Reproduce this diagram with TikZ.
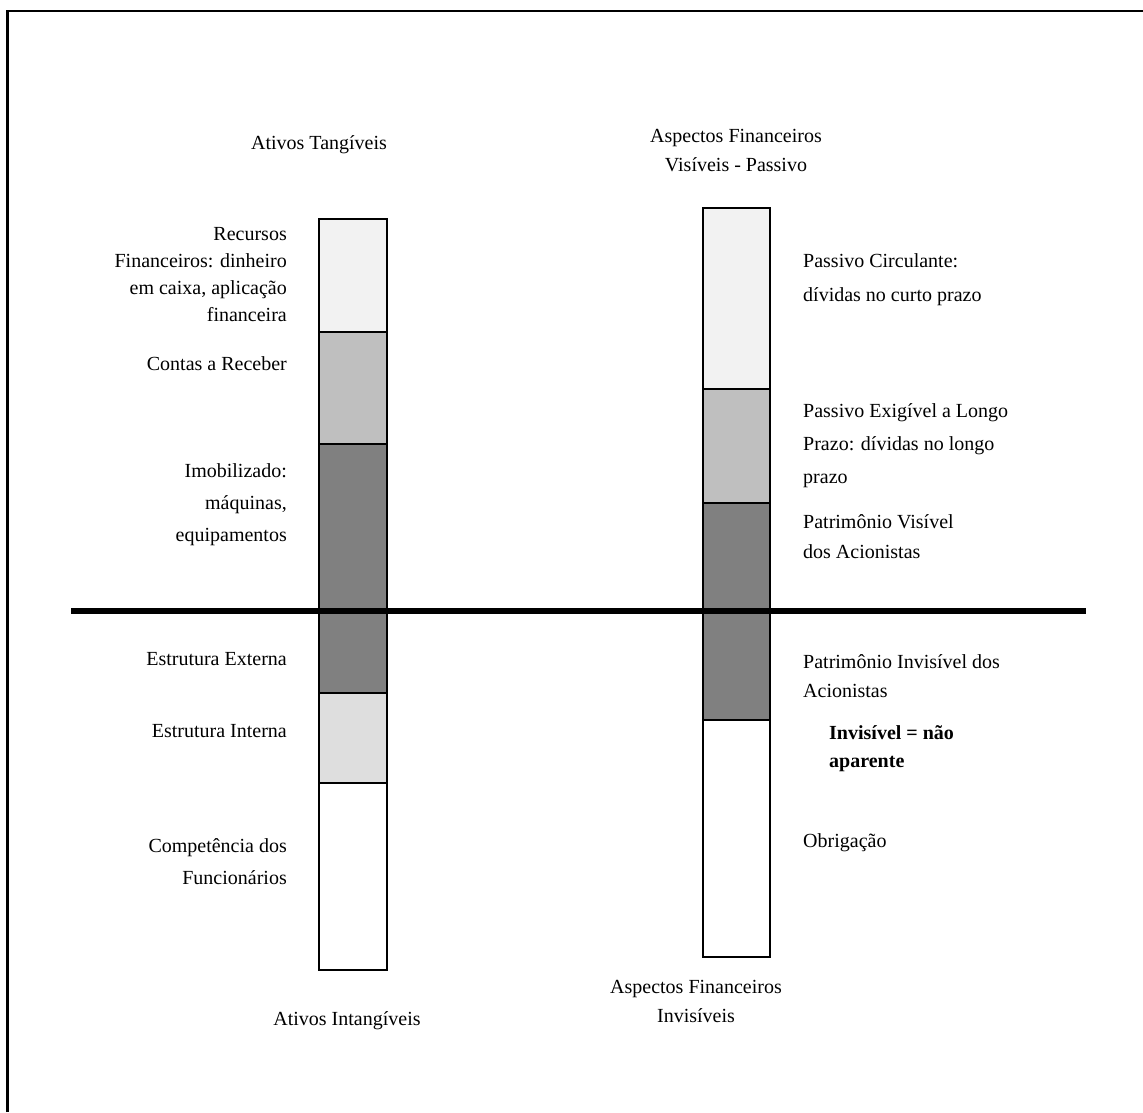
\documentclass[tikz,border=0pt]{standalone}
\usepackage{fontspec}
\setmainfont{Liberation Serif}
\begin{document}
\begin{tikzpicture}[x=1pt,y=-1pt,
  seg/.style={draw=black,line width=1.6pt},
  lbl/.style={inner sep=0pt,font=\fontsize{20}{31}\selectfont,align=center},
  lblr/.style={lbl,align=right,anchor=east},
  lbll/.style={lbl,align=left,anchor=west}]
\useasboundingbox (0,0) rectangle (1143,1112);
% partial frame
\draw[line width=2.2pt] (7.5,1112) -- (7.5,11) -- (1143,11);

% left column: tangible / intangible assets
\filldraw[seg,fill=black!5]  (319,219) rectangle (387,332);
\filldraw[seg,fill=black!25] (319,332) rectangle (387,444);
\filldraw[seg,fill=black!50] (319,444) rectangle (387,693);
\filldraw[seg,fill=black!13] (319,693) rectangle (387,783);
\filldraw[seg,fill=white]    (319,783) rectangle (387,970);

% right column: liabilities and equity
\filldraw[seg,fill=black!5]  (703,208) rectangle (770,389);
\filldraw[seg,fill=black!25] (703,389) rectangle (770,503);
\filldraw[seg,fill=black!50] (703,503) rectangle (770,720);
\filldraw[seg,fill=white]    (703,720) rectangle (770,957);

% visibility line
\coordinate (lineL) at (71,611);
\coordinate (lineR) at (1086,611);
\draw[line width=6pt] (lineL) -- (lineR);

% headings
\node[lbl] (tang) at (319,145) {Ativos Tangíveis};
\node[lbl,font=\fontsize{20}{29}\selectfont] (visp) at (736,151) {Aspectos Financeiros\\Visíveis - Passivo};
\node[lbl] (intang) at (347,1021) {Ativos Intangíveis};
\node[lbl,font=\fontsize{20}{29}\selectfont] (invf) at (696,1001) {Aspectos Financeiros\\Invisíveis};

% left labels
\node[lblr,font=\fontsize{20}{27}\selectfont] (rec) at (287,275) {Recursos\\Financeiros: dinheiro\\em caixa, aplicação\\financeira};
\node[lblr] (cr) at (287,364) {Contas a Receber};
\node[lblr,font=\fontsize{20}{32}\selectfont] (imo) at (287,505) {Imobilizado:\\máquinas,\\equipamentos};
\node[lblr] (ee) at (287,659) {Estrutura Externa};
\node[lblr] (ei) at (287,731) {Estrutura Interna};
\node[lblr,font=\fontsize{20}{32}\selectfont] (cf) at (287,862) {Competência dos\\Funcionários};

% right labels
\node[lbll,font=\fontsize{20}{34}\selectfont] (pc) at (803,280) {Passivo Circulante:\\dívidas no curto prazo};
\node[lbll,font=\fontsize{20}{33}\selectfont] (pe) at (803,446) {Passivo Exigível a Longo\\Prazo: dívidas no longo\\prazo};
\node[lbll,font=\fontsize{20}{30}\selectfont] (pv) at (803,537) {Patrimônio Visível\\dos Acionistas};
\node[lbll,font=\fontsize{20}{29}\selectfont] (pi) at (803,676) {Patrimônio Invisível dos\\Acionistas};
\node[lbll,font=\fontsize{20}{28}\selectfont\bfseries] (nap) at (829,749) {Invisível = não\\aparente};
\node[lbll] (obr) at (803,843) {Obrigação};
\end{tikzpicture}
\end{document}
